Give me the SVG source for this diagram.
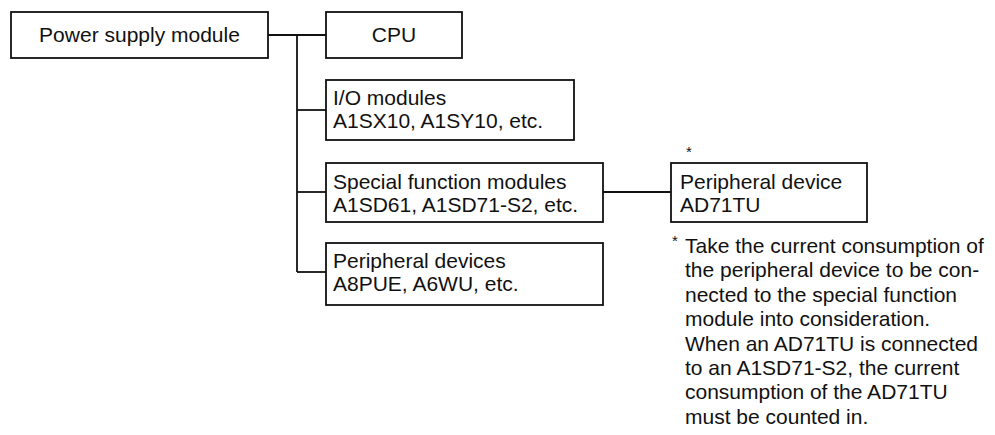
<svg xmlns="http://www.w3.org/2000/svg" width="995" height="435" viewBox="0 0 995 435">
<style>
  .box { fill: #ffffff; stroke: #111111; stroke-width: 1.8; }
  .conn { fill: none; stroke: #111111; stroke-width: 1.8; }
  text { font-family: "Liberation Sans", Arial, Helvetica, sans-serif; font-size: 21px; fill: #111111; }
  .ast { font-size: 15px; }
</style>
<rect width="995" height="435" fill="#ffffff"/>
<g id="connectors">
  <path class="conn" d="M268,35 H326"/>
  <path class="conn" d="M297,35 V272"/>
  <path class="conn" d="M297,110 H326"/>
  <path class="conn" d="M297,192 H326"/>
  <path class="conn" d="M297,272 H326"/>
  <path class="conn" d="M603,192 H671"/>
</g>
<g id="power">
  <rect class="box" x="11" y="12" width="257" height="46"/>
  <text x="139.5" y="42" text-anchor="middle">Power supply module</text>
</g>
<g id="cpu">
  <rect class="box" x="326" y="12" width="136" height="46"/>
  <text x="394" y="42" text-anchor="middle">CPU</text>
</g>
<g id="io">
  <rect class="box" x="326" y="80" width="248" height="60"/>
  <text x="333" y="105">I/O modules</text>
  <text x="333" y="128">A1SX10, A1SY10, etc.</text>
</g>
<g id="special">
  <rect class="box" x="326" y="163" width="277" height="59"/>
  <text x="333" y="189">Special function modules</text>
  <text x="333" y="212">A1SD61, A1SD71-S2, etc.</text>
</g>
<g id="periph">
  <rect class="box" x="326" y="243" width="277" height="62"/>
  <text x="333" y="268">Peripheral devices</text>
  <text x="333" y="291">A8PUE, A6WU, etc.</text>
</g>
<g id="ad71tu">
  <text class="ast" x="686" y="157">*</text>
  <rect class="box" x="671" y="163" width="196" height="59"/>
  <text x="680" y="189">Peripheral device</text>
  <text x="680" y="212">AD71TU</text>
</g>
<g id="note">
  <text class="ast" x="672" y="246">*</text>
  <text x="685" y="253">Take the current consumption of</text>
  <text x="685" y="277.4">the peripheral device to be con-</text>
  <text x="685" y="301.8">nected to the special function</text>
  <text x="685" y="326.2">module into consideration.</text>
  <text x="685" y="350.6">When an AD71TU is connected</text>
  <text x="685" y="375">to an A1SD71-S2, the current</text>
  <text x="685" y="399.4">consumption of the AD71TU</text>
  <text x="685" y="423.8">must be counted in.</text>
</g>
</svg>
